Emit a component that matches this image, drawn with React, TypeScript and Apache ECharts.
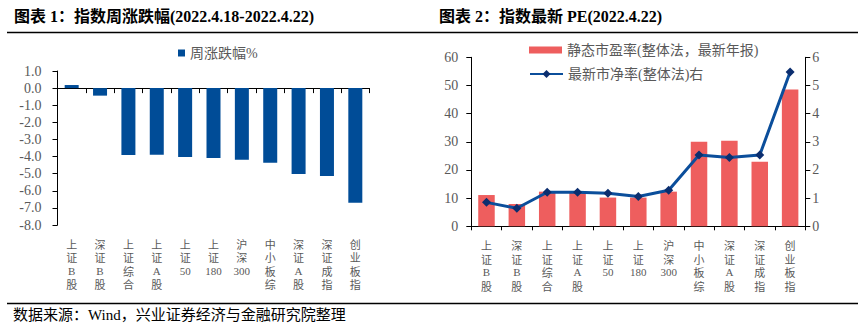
import React, { useEffect, useRef } from "react";
import * as echarts from "echarts";

const categories = ["上证B股", "深证B股", "上证综合", "上证A股", "上证50", "上证180", "沪深300", "中小板综", "深证A股", "深证成指", "创业板指"];
const weeklyChange = [0.18, -0.44, -3.91, -3.9, -4.03, -4.09, -4.18, -4.36, -5.02, -5.14, -6.7];
const peValues = [11.1, 7.9, 12.3, 12.3, 10.2, 10.2, 12.3, 30.0, 30.4, 22.9, 48.6];
const pbValues = [0.85, 0.64, 1.21, 1.21, 1.17, 1.06, 1.28, 2.53, 2.44, 2.53, 5.48];
const weeklyName = "周涨跌幅%";
const peName = "静态市盈率(整体法，最新年报)";
const pbName = "最新市净率(整体法)右";

const SERIF = "'Liberation Serif', 'Noto Sans CJK SC'";
const GRAY = "#595959";

const catFormatter = (name: string) => {
  const parts = name.match(/[A-Za-z0-9]+|./g) || [];
  return parts.map((p) => (/^[A-Za-z0-9]+$/.test(p) ? `{l|${p}}` : `{c|${p}}`)).join("\n");
};

const catRich = {
  c: { fontSize: 11, lineHeight: 13.5, color: GRAY, fontFamily: "'Noto Sans CJK SC'" },
  l: { fontSize: 11, lineHeight: 13.5, color: GRAY, fontFamily: "'Liberation Serif'" },
};

export default function App() {
  const ref = useRef<HTMLDivElement>(null);
  useEffect(() => {
    if (!ref.current) return;
    const chart = echarts.init(ref.current, undefined, { renderer: "svg" });
    const axisLine = { show: true, lineStyle: { color: "#000", width: 1 } };
    const axisTick = { show: true, length: 5, lineStyle: { color: "#000", width: 1 } };
    const valLabel = { color: GRAY, fontSize: 14, fontFamily: "'Liberation Serif'" };
    chart.setOption({
      animation: false,
      backgroundColor: "#fff",
      title: [
        {
          text: "图表 1：指数周涨跌幅(2022.4.18-2022.4.22)",
          left: 14,
          top: 8,
          padding: 0,
          textStyle: { fontSize: 16, fontWeight: "bold", color: "#000", fontFamily: SERIF },
        },
        {
          text: "图表 2：指数最新 PE(2022.4.22)",
          left: 439,
          top: 8,
          padding: 0,
          textStyle: { fontSize: 16, fontWeight: "bold", color: "#000", fontFamily: SERIF },
        },
        {
          text: "数据来源：Wind，兴业证券经济与金融研究院整理",
          left: 13,
          top: 307,
          padding: 0,
          textStyle: { fontSize: 15, fontWeight: "normal", color: "#000", fontFamily: SERIF },
        },
      ],
      graphic: [
        { type: "line", shape: { x1: 7, y1: 32.5, x2: 858, y2: 32.5 }, style: { stroke: "#000", lineWidth: 1.5 } },
        { type: "line", shape: { x1: 7, y1: 303.5, x2: 858, y2: 303.5 }, style: { stroke: "#000", lineWidth: 1.5 } },
      ],
      legend: [
        {
          data: [weeklyName],
          left: 178,
          top: 46,
          padding: 0,
          icon: "rect",
          itemWidth: 7,
          itemHeight: 7,
          textStyle: { fontSize: 14, color: GRAY, fontFamily: SERIF },
        },
        {
          data: [peName],
          left: 529,
          top: 43,
          padding: 0,
          icon: "rect",
          itemWidth: 33,
          itemHeight: 7,
          textStyle: { fontSize: 14, color: GRAY, fontFamily: SERIF },
        },
        {
          data: [pbName],
          left: 529,
          top: 67,
          padding: 0,
          itemWidth: 33,
          itemHeight: 10,
          textStyle: { fontSize: 14, color: GRAY, fontFamily: SERIF },
        },
      ],
      grid: [
        { left: 57.5, top: 71, width: 312, height: 154, containLabel: false },
        { left: 471.3, top: 57.3, width: 334, height: 169, containLabel: false },
      ],
      xAxis: [
        {
          type: "category",
          gridIndex: 0,
          data: categories,
          position: "bottom",
          axisLine: { show: false, onZero: false },
          axisTick: { show: false },
          axisLabel: { interval: 0, margin: 12, formatter: catFormatter, rich: catRich, hideOverlap: false },
        },
        {
          type: "category",
          gridIndex: 0,
          data: categories,
          position: "bottom",
          axisLine: { ...axisLine, onZero: true },
          axisTick: { ...axisTick, interval: 0 },
          axisLabel: { show: false },
        },
        {
          type: "category",
          gridIndex: 1,
          data: categories,
          position: "bottom",
          axisLine,
          axisTick: { ...axisTick, length: 4, interval: 0 },
          axisLabel: { interval: 0, margin: 12, formatter: catFormatter, rich: catRich, hideOverlap: false },
        },
      ],
      yAxis: [
        {
          type: "value",
          gridIndex: 0,
          min: -8,
          max: 1,
          interval: 1,
          axisLine,
          axisTick,
          splitLine: { show: false },
          axisLabel: { ...valLabel, margin: 16, formatter: (v: number) => v.toFixed(1) },
        },
        {
          type: "value",
          gridIndex: 1,
          position: "left",
          min: 0,
          max: 60,
          interval: 10,
          axisLine,
          axisTick,
          splitLine: { show: false },
          axisLabel: { ...valLabel, margin: 13 },
        },
        {
          type: "value",
          gridIndex: 1,
          position: "right",
          min: 0,
          max: 6,
          interval: 1,
          axisLine,
          axisTick,
          splitLine: { show: false },
          axisLabel: { ...valLabel, margin: 7 },
        },
      ],
      series: [
        {
          name: weeklyName,
          type: "bar",
          xAxisIndex: 0,
          yAxisIndex: 0,
          data: weeklyChange,
          barWidth: 14,
          itemStyle: { color: "#004C97" },
        },
        {
          name: peName,
          type: "bar",
          xAxisIndex: 2,
          yAxisIndex: 1,
          data: peValues,
          barWidth: 16.5,
          itemStyle: { color: "#EE5E5E" },
        },
        {
          name: pbName,
          type: "line",
          xAxisIndex: 2,
          yAxisIndex: 2,
          data: pbValues,
          symbol: "diamond",
          symbolSize: 9,
          z: 5,
          lineStyle: { color: "#0B4E9B", width: 3 },
          itemStyle: { color: "#0B2E6F" },
        },
      ],
    });
    return () => chart.dispose();
  }, []);
  return (
    <div
      ref={ref}
      style={{ position: "fixed", left: 0, top: 0, width: 864, height: 334, background: "#fff" }}
    />
  );
}
